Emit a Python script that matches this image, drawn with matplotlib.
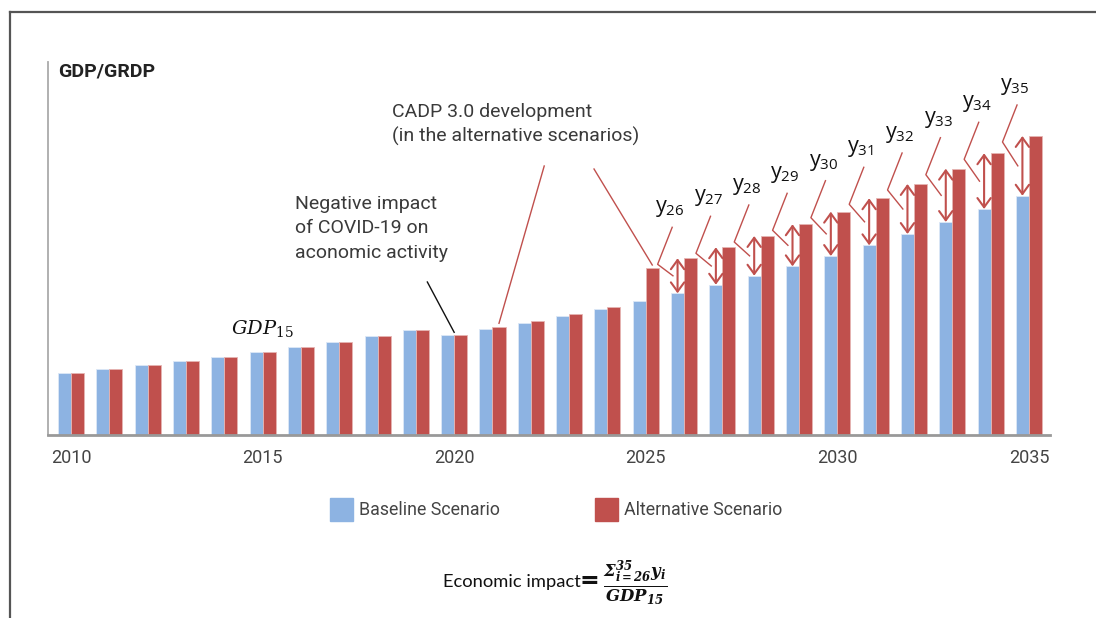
import matplotlib
matplotlib.use("Agg")
import matplotlib.pyplot as plt
from matplotlib.patches import Rectangle
from matplotlib.lines import Line2D

# ---------------------------------------------------------------- DATA
years = list(range(2010, 2036))
baseline = [62, 65.7, 69.7, 74, 78.3, 83, 88, 93.3, 99, 105, 99.7, 106, 112,
            118.7, 126, 133.7, 141.7, 150.3, 159.3, 168.7, 179, 189.7, 201,
            213, 226, 239.3]
alternative = [62, 65.7, 69.7, 74, 78.3, 83, 88, 93.3, 99, 105, 99.7, 107.7,
               114, 121, 128.3, 167, 176.7, 187.7, 199, 210.7, 223.3, 236.7,
               251, 266.3, 281.7, 299]
tick_years = [2010, 2015, 2020, 2025, 2030, 2035]
impact_years = list(range(2026, 2036))

BLUE = '#8DB3E2'
RED = '#C0504D'
TXT = '#3a3a3a'

plt.rcParams['mathtext.fontset'] = 'custom'
plt.rcParams['mathtext.rm'] = 'Open Sans'
plt.rcParams['mathtext.it'] = 'Open Sans:italic'
plt.rcParams['mathtext.bf'] = 'Open Sans:bold'

W, H = 1096, 618
fig = plt.figure(figsize=(W / 100, H / 100), dpi=100)


def fx(p):
    return p / W


def fy(p):
    return 1 - p / H


# frame of the picture
fig.add_artist(Line2D([fx(10), 1], [fy(12), fy(12)], color='#555555', lw=1.6))
fig.add_artist(Line2D([fx(10), fx(10)], [fy(12), 0], color='#555555', lw=1.6))

ax = fig.add_axes([fx(48), fy(435), fx(1002), 373 / H])
bw = 0.34
xb = [y - bw / 2 for y in years]
xr = [y + bw / 2 for y in years]
ax.bar(xb, baseline, width=bw, color=BLUE, edgecolor='#dce8f6', linewidth=0.6, zorder=2)
ax.bar(xr, alternative, width=bw, color=RED, edgecolor='#e6b5b3', linewidth=0.6, zorder=2)

ax.set_xlim(2010 - 0.6, 2035 + 0.55)
ax.set_ylim(0, 373)
ax.set_yticks([])
ax.set_xticks(tick_years)
ax.set_xticklabels([str(t) for t in tick_years], family='Roboto', fontsize=13, color='#444444')
ax.tick_params(axis='x', length=0, pad=10)
for s in ['top', 'right']:
    ax.spines[s].set_visible(False)
ax.spines['left'].set_color('#aaaaaa')
ax.spines['left'].set_linewidth(1.3)
ax.spines['bottom'].set_color('#999999')
ax.spines['bottom'].set_linewidth(2)

ax.text(2010 - 0.34, 373, 'GDP/GRDP', family='Roboto', fontweight='bold',
        fontsize=14, color='#222222', va='top', ha='left')

# arrows + y_i labels
for yr in impact_years:
    i = years.index(yr)
    x = xb[i]
    b, a = baseline[i], alternative[i]
    ax.annotate('', xy=(x, b), xytext=(x, a),
                arrowprops=dict(arrowstyle='<->,head_length=0.55,head_width=0.4',
                                color=RED, lw=1.5, shrinkA=0, shrinkB=0,
                                mutation_scale=12), zorder=4)
    mid = (a + b) / 2
    ax.plot([x - 0.14, x - 0.52, x - 0.12], [a + 31, a - 6, mid],
            color=RED, lw=1, zorder=3, clip_on=False)
    ax.text(x - 0.58, a + 46, r'$\mathrm{y}_{\mathrm{%d}}$' % (yr - 2000),
            fontsize=15.5, color='#111111', va='baseline', ha='left')

# GDP_15 label
i15 = years.index(2015)
ax.text(years[i15], baseline[i15] + 13, r'$GDP_{15}$', math_fontfamily='dejavuserif',
        fontsize=14, color='#111111', ha='center', va='bottom')

# COVID annotation
i20 = years.index(2020)
ax.text(2015.85, 240, 'Negative impact\nof COVID-19 on\naconomic activity',
        family='Roboto', fontsize=14, color=TXT,
        va='top', ha='left', linespacing=1.45)
ax.plot([2019.3, years[i20]], [153, baseline[i20] + 3], color='#111111', lw=1, zorder=3)

# CADP annotation
ax.text(2018.38, 332, 'CADP 3.0 development\n(in the alternative scenarios)',
        family='Roboto', fontsize=14, color=TXT,
        va='top', ha='left', linespacing=1.42)
i21 = years.index(2021)
i25 = years.index(2025)
ax.plot([2022.35, xr[i21]], [269, alternative[i21] + 4], color=RED, lw=1, zorder=3)
ax.plot([2023.65, xr[i25]], [266, alternative[i25] + 3], color=RED, lw=1, zorder=3)

# legend
fig.add_artist(Rectangle((fx(330), fy(521)), fx(23), 23 / H, color=BLUE, transform=fig.transFigure))
fig.add_artist(Rectangle((fx(595), fy(521)), fx(23), 23 / H, color=RED, transform=fig.transFigure))
fig.text(fx(359), fy(510), 'Baseline Scenario', family='Roboto',
         fontsize=12.8, color='#444444', va='center', ha='left')
fig.text(fx(624), fy(510), 'Alternative Scenario', family='Roboto',
         fontsize=12.8, color='#444444', va='center', ha='left')

# economic impact formula
fig.text(fx(443), fy(587), 'Economic impact', family='Lato', fontsize=13.2,
         color='#111111', va='baseline', ha='left')
fig.text(fx(580), fy(588), '=', family='DejaVu Sans', fontsize=17, fontweight='bold',
         color='#111111', va='baseline', ha='left')
fig.text(fx(603), fy(583),
         r'$\frac{\mathbfit{\Sigma_{i=26}^{35} y_i}}{\mathbfit{GDP_{15}}}$',
         math_fontfamily='dejavuserif', fontsize=17, color='#111111',
         va='center', ha='left')

fig.savefig('out.png', dpi=100)
